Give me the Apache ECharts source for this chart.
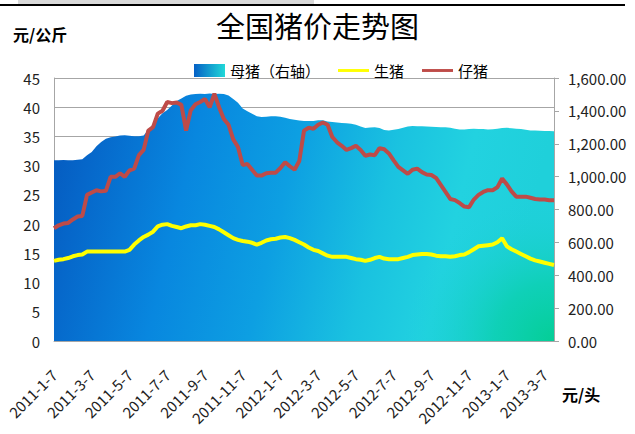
<!DOCTYPE html>
<html>
<head>
<meta charset="utf-8">
<script src="https://cdn.jsdelivr.net/npm/echarts@6/dist/echarts.min.js"></script>
<style>
  html, body { margin: 0; padding: 0; background: #fff; }
  #chart { width: 635px; height: 434px; }
</style>
</head>
<body>
<div id="chart"></div>
<script>
// weekly dates: 7th, 14th, 21st, 28th of each month, 2011-1-7 .. 2013-3-21
const categories = [];
for (let y = 2011; y <= 2013; y++) {
  for (let m = 1; m <= 12; m++) {
    [7, 14, 21, 28].forEach(function (d) {
      if (categories.length < 107) categories.push(y + '-' + m + '-' + d);
    });
  }
}

// 母猪 (元/头, right axis)
const sowPrice = [
  1100, 1100, 1101, 1100, 1100, 1102, 1105, 1130, 1150, 1185,
  1210, 1230, 1240, 1244, 1250, 1251, 1248, 1246, 1245, 1250,
  1285, 1320, 1355, 1385, 1405, 1432, 1460, 1475, 1492, 1500,
  1503, 1504, 1503, 1505, 1503, 1504, 1502, 1493, 1472, 1450,
  1415, 1398, 1383, 1368, 1362, 1364, 1368, 1368, 1364, 1358,
  1350, 1346, 1342, 1339, 1338, 1338, 1343, 1343, 1336, 1332,
  1329, 1326, 1324, 1321, 1315, 1305, 1296, 1299, 1301, 1296,
  1284, 1281, 1285, 1290, 1298, 1305, 1308, 1307, 1307, 1305,
  1303, 1302, 1301, 1300, 1297, 1292, 1287, 1287, 1290, 1291,
  1290, 1289, 1287, 1288, 1292, 1296, 1297, 1295, 1291, 1289,
  1285, 1281, 1280, 1279, 1278, 1277, 1276
];

// 生猪 (元/公斤)
const hogPrice = [
  13.7, 13.9, 14.0, 14.2, 14.5, 14.7, 14.8, 15.3, 15.3, 15.3,
  15.3, 15.3, 15.3, 15.3, 15.3, 15.3, 15.6, 16.5, 17.2, 17.8,
  18.2, 18.7, 19.6, 19.9, 20.0, 19.7, 19.5, 19.3, 19.6, 19.8,
  19.8, 20.0, 19.9, 19.7, 19.5, 19.1, 18.6, 18.1, 17.6, 17.3,
  17.1, 17.0, 16.8, 16.5, 16.8, 17.2, 17.4, 17.5, 17.7, 17.8,
  17.6, 17.3, 16.9, 16.5, 16.0, 15.6, 15.4, 15.0, 14.6, 14.4,
  14.4, 14.4, 14.4, 14.2, 14.0, 13.9, 13.7, 13.9, 14.2, 14.4,
  14.1, 14.0, 14.0, 14.0, 14.2, 14.4, 14.7, 14.8, 14.9, 14.9,
  14.8, 14.6, 14.5, 14.5, 14.4, 14.5, 14.7, 14.8, 15.2, 15.7,
  16.2, 16.3, 16.4, 16.5, 16.9, 17.6, 16.2, 15.7, 15.3, 14.9,
  14.5, 14.1, 13.8, 13.6, 13.4, 13.2, 13.0
];

// 仔猪 (元/公斤)
const pigletPrice = [
  19.3, 19.8, 20.1, 20.2, 20.8, 21.3, 21.4, 25.0, 25.4, 25.8,
  25.6, 25.7, 28.1, 28.1, 28.7, 28.1, 29.2, 29.5, 31.8, 32.7,
  36.0, 36.6, 38.9, 39.4, 40.9, 40.7, 40.8, 40.4, 36.0, 39.5,
  40.5, 40.9, 41.4, 40.0, 42.3, 40.0, 38.0, 37.0, 34.5, 33.2,
  30.1, 30.3, 29.3, 28.3, 28.3, 28.7, 28.8, 28.8, 29.6, 30.6,
  29.9, 29.3, 30.8, 36.0, 36.5, 36.3, 37.0, 37.4, 37.0, 34.9,
  34.0, 33.4, 32.7, 33.0, 33.4, 32.7, 31.7, 31.9, 31.8, 33.0,
  32.8, 32.1, 30.9, 29.8, 29.2, 28.6, 29.3, 29.5, 28.9, 28.5,
  28.4, 27.9, 26.7, 25.5, 24.3, 24.1, 23.6, 23.0, 22.9, 24.2,
  25.0, 25.5, 25.8, 25.8, 26.3, 27.8, 26.8, 25.6, 24.7, 24.7,
  24.7, 24.5, 24.3, 24.2, 24.2, 24.1, 24.1
];

const font = '"Noto Sans CJK SC", "Noto Sans", sans-serif';
const gridColor = '#A6A6A6';

var chart = echarts.init(document.getElementById('chart'), null, { renderer: 'svg' });

// mostly left-to-right blue -> cyan
var areaFill = new echarts.graphic.LinearGradient(0, 0, 1, 0.12, [
  { offset: 0, color: '#0558BD' },
  { offset: 0.1, color: '#0667CA' },
  { offset: 0.3, color: '#0887DF' },
  { offset: 0.5, color: '#0D9FE2' },
  { offset: 0.7, color: '#1AC2E0' },
  { offset: 0.85, color: '#22D2E0' },
  { offset: 1, color: '#1FD0DA' }
]);
// green tint in the lower right corner of the plot
var cornerFill = new echarts.graphic.RadialGradient(1, 1, 1, [
  { offset: 0, color: 'rgba(4,206,150,1)' },
  { offset: 0.4, color: 'rgba(10,208,172,0.75)' },
  { offset: 1, color: 'rgba(30,210,220,0)' }
]);
var legendFill = new echarts.graphic.LinearGradient(0, 0, 1, 0, [
  { offset: 0, color: '#0560C6' },
  { offset: 1, color: '#20D8D8' }
]);

function money(v) {
  return v.toFixed(2).replace(/\B(?=(\d{3})+(?!\d))/g, ',');
}

var option = {
  animation: false,
  textStyle: { fontFamily: font },
  title: {
    text: '全国猪价走势图',
    left: 'center',
    top: 5,
    textStyle: { fontSize: 29, fontWeight: 'normal', color: '#000', fontFamily: font }
  },
  legend: {
    top: 58,
    left: 189,
    itemWidth: 31,
    itemHeight: 13,
    itemGap: 18,
    textStyle: { fontSize: 15, color: '#000' },
    data: [
      { name: '母猪（右轴）', icon: 'rect', itemStyle: { color: legendFill } },
      { name: '生猪', icon: 'path://M0,0H32V3H0Z' },
      { name: '仔猪', icon: 'path://M0,0H32V3H0Z' }
    ]
  },
  graphic: [
    { type: 'rect', left: 18, top: 0, shape: { width: 296, height: 4 }, style: { fill: '#D9D9D9' } },
    { type: 'rect', left: 0, top: 4, shape: { width: 625, height: 2 }, style: { fill: '#000' } },
    { type: 'text', left: 13, top: 26, style: { text: '元/公斤', fill: '#000', font: 'bold 16px ' + font } },
    { type: 'text', left: 562, top: 386, style: { text: '元/头', fill: '#000', font: 'bold 16px ' + font } },
    { type: 'rect', left: 404, top: 196, z: 2, silent: true, shape: { width: 150, height: 145 }, style: { fill: cornerFill } }
  ],
  grid: { left: 54, right: 81, top: 78, bottom: 93 },
  xAxis: {
    type: 'category',
    data: categories,
    boundaryGap: false,
    axisLine: { lineStyle: { color: gridColor } },
    axisTick: { show: false },
    axisLabel: {
      interval: function (index) { return index % 8 === 0; },
      rotate: 45,
      fontSize: 15,
      color: '#222',
      margin: 31
    }
  },
  yAxis: [
    {
      type: 'value',
      min: 0,
      max: 45,
      interval: 5,
      axisLine: { show: true, lineStyle: { color: gridColor } },
      axisTick: { show: false },
      axisLabel: { fontSize: 15, color: '#222', margin: 14 },
      splitLine: { lineStyle: { color: gridColor } }
    },
    {
      type: 'value',
      min: 0,
      max: 1600,
      interval: 200,
      position: 'right',
      axisLine: { show: true, lineStyle: { color: gridColor } },
      axisTick: { show: true, length: 5, lineStyle: { color: gridColor } },
      axisLabel: { fontSize: 15, color: '#222', margin: 14, formatter: money },
      splitLine: { show: false }
    }
  ],
  series: [
    {
      name: '母猪（右轴）',
      type: 'line',
      yAxisIndex: 1,
      data: sowPrice,
      symbol: 'none',
      lineStyle: { width: 0 },
      itemStyle: { color: legendFill },
      areaStyle: { color: areaFill, opacity: 1 },
      z: 1
    },
    {
      name: '生猪',
      type: 'line',
      data: hogPrice,
      symbol: 'none',
      color: '#FFFF00',
      lineStyle: { color: '#FFFF00', width: 4 },
      z: 3
    },
    {
      name: '仔猪',
      type: 'line',
      data: pigletPrice,
      symbol: 'none',
      color: '#BE4B48',
      lineStyle: { color: '#BE4B48', width: 4 },
      z: 4
    }
  ]
};

chart.setOption(option);
</script>
</body>
</html>
